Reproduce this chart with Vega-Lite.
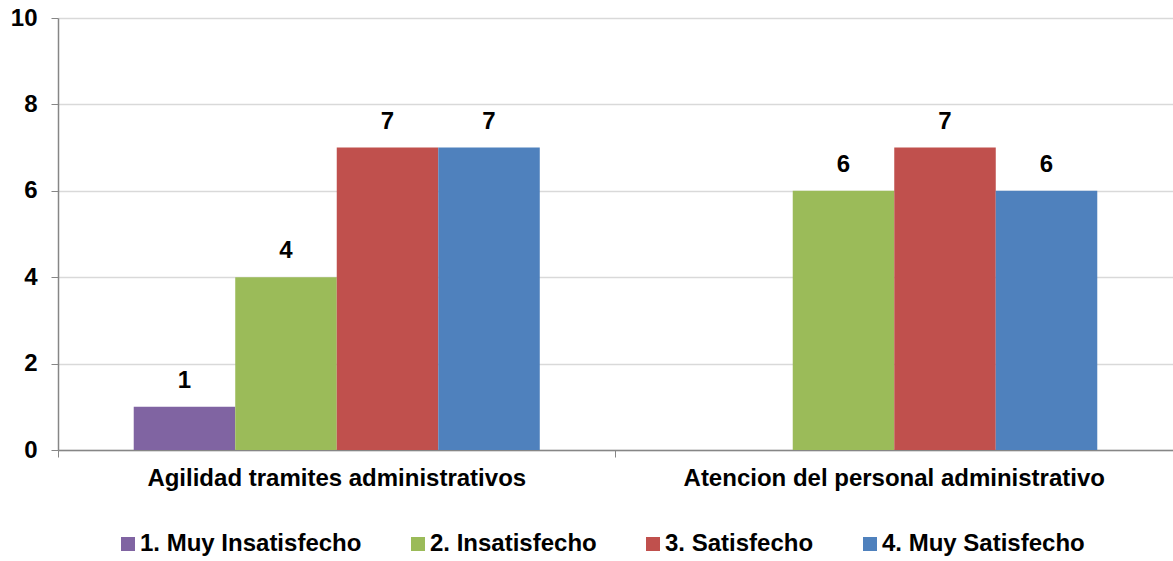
{
  "$schema": "https://vega.github.io/schema/vega-lite/v6.json",
  "autosize": {"type": "none"},
  "padding": {"left": 58, "top": 18, "right": 0, "bottom": 111},
  "width": 1115,
  "height": 432,
  "background": "white",
  "config": {
    "font": "Liberation Sans",
    "view": {"stroke": null}
  },
  "data": {
    "values": [
      {"aspecto": "Agilidad tramites administrativos", "nivel": "1. Muy Insatisfecho", "valor": 1},
      {"aspecto": "Agilidad tramites administrativos", "nivel": "2. Insatisfecho", "valor": 4},
      {"aspecto": "Agilidad tramites administrativos", "nivel": "3. Satisfecho", "valor": 7},
      {"aspecto": "Agilidad tramites administrativos", "nivel": "4. Muy Satisfecho", "valor": 7},
      {"aspecto": "Atencion del personal administrativo", "nivel": "2. Insatisfecho", "valor": 6},
      {"aspecto": "Atencion del personal administrativo", "nivel": "3. Satisfecho", "valor": 7},
      {"aspecto": "Atencion del personal administrativo", "nivel": "4. Muy Satisfecho", "valor": 6}
    ]
  },
  "encoding": {
    "x": {
      "field": "aspecto",
      "type": "nominal",
      "sort": null,
      "scale": {"paddingInner": 0, "paddingOuter": 0},
      "axis": {
        "title": null,
        "labelAngle": 0,
        "labelFontSize": 24,
        "labelFontWeight": "bold",
        "labelColor": "#000000",
        "labelLimit": 0,
        "labelPadding": 9,
        "tickSize": 7,
        "tickColor": "#868686",
        "domainColor": "#868686",
        "domainWidth": 1.5,
        "bandPosition": 0
      }
    },
    "xOffset": {
      "field": "nivel",
      "type": "nominal",
      "scale": {
        "domain": ["1. Muy Insatisfecho", "2. Insatisfecho", "3. Satisfecho", "4. Muy Satisfecho"],
        "paddingInner": 0,
        "paddingOuter": 0.746
      }
    },
    "y": {
      "field": "valor",
      "type": "quantitative",
      "scale": {"domain": [0, 10]},
      "axis": {
        "title": null,
        "values": [0, 2, 4, 6, 8, 10],
        "labelFontSize": 24,
        "labelFontWeight": "bold",
        "labelColor": "#000000",
        "labelPadding": 14,
        "tickSize": 7,
        "tickColor": "#868686",
        "domainColor": "#868686",
        "domainWidth": 1.5,
        "gridColor": "#d9d9d9",
        "gridWidth": 1.5
      }
    }
  },
  "layer": [
    {
      "mark": {"type": "bar"},
      "encoding": {
        "color": {
          "field": "nivel",
          "type": "nominal",
          "scale": {
            "domain": ["1. Muy Insatisfecho", "2. Insatisfecho", "3. Satisfecho", "4. Muy Satisfecho"],
            "range": ["#8064A2", "#9BBB59", "#C0504D", "#4F81BD"]
          },
          "legend": {
            "title": null,
            "orient": "none",
            "legendX": 58,
            "legendY": 514,
            "direction": "horizontal",
            "symbolType": "square",
            "symbolSize": 196,
            "symbolStrokeWidth": 0,
            "labelFontSize": 24,
            "labelFontWeight": "bold",
            "labelColor": "#000000",
            "labelLimit": 0,
            "labelOffset": 0,
            "columnPadding": 44
          }
        }
      }
    },
    {
      "mark": {"type": "text", "baseline": "bottom", "dy": -14, "fontSize": 24, "fontWeight": "bold", "color": "#000000"},
      "encoding": {
        "text": {"field": "valor", "type": "quantitative"}
      }
    }
  ]
}
